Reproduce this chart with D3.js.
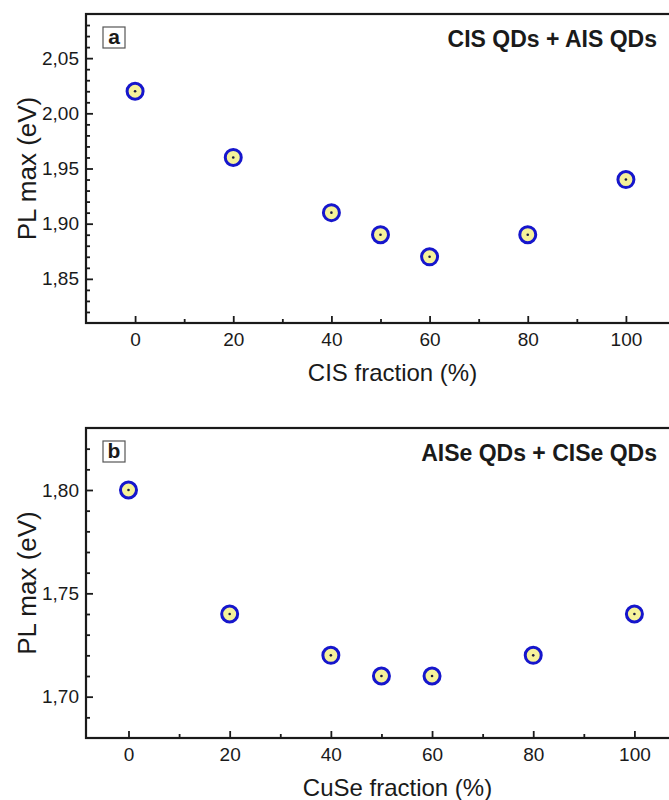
<!DOCTYPE html>
<html>
<head>
<meta charset="utf-8">
<script src="https://cdn.jsdelivr.net/npm/d3@7"></script>
<style>
  html, body { margin: 0; padding: 0; background: #fff; }
  svg { display: block; }
  text { font-family: "Liberation Sans", Arial, sans-serif; fill: #1a1a1a; }
</style>
</head>
<body>
<svg id="chart" width="669" height="800"></svg>
<script>
// Composition (%) of the QD mixtures
const fractions = [0, 20, 40, 50, 60, 80, 100];
// PL maximum (eV), CIS + AIS mixtures
const plMaxA = [2.02, 1.96, 1.91, 1.89, 1.87, 1.89, 1.94];
// PL maximum (eV), AISe + CISe mixtures
const plMaxB = [1.80, 1.74, 1.72, 1.71, 1.71, 1.72, 1.74];

const xTicks = [0, 20, 40, 60, 80, 100];
const xMinorTicks = [10, 30, 50, 70, 90];
const yTicksA = [1.85, 1.90, 1.95, 2.00, 2.05];
const yTicksB = [1.70, 1.75, 1.80];

const panelLetters = ["a", "b"];
const panelTitles = ["CIS QDs + AIS QDs", "AISe QDs + CISe QDs"];
const xTitles = ["CIS fraction (%)", "CuSe fraction (%)"];
const yTitle = "PL max (eV)";

const panels = [
  {
    letter: panelLetters[0], title: panelTitles[0], xTitle: xTitles[0],
    values: plMaxA, yTicks: yTicksA,
    xDomain: [-10, 110], xRange: [86, 675],
    yDomain: [1.81, 2.09], yRange: [323, 14]
  },
  {
    letter: panelLetters[1], title: panelTitles[1], xTitle: xTitles[1],
    values: plMaxB, yTicks: yTicksB,
    xDomain: [-8.4, 110], xRange: [86, 685],
    yDomain: [1.68, 1.83], yRange: [738, 428]
  }
];

const svg = d3.select("#chart");
const ink = "#1a1a1a";
const comma = v => d3.format(".2f")(v).replace(".", ",");

panels.forEach(p => {
  const x = d3.scaleLinear().domain(p.xDomain).range(p.xRange);
  const y = d3.scaleLinear().domain(p.yDomain).range(p.yRange);
  const [x0, x1] = p.xRange;
  const [yb, yt] = p.yRange;
  const g = svg.append("g");

  // minor y ticks every 0.01
  const yMinor = d3.range(Math.round(p.yDomain[0] * 100), Math.round(p.yDomain[1] * 100) + 1)
    .map(v => v / 100)
    .filter(v => !p.yTicks.some(t => Math.abs(t - v) < 1e-6) && v > p.yDomain[0] + 1e-6 && v < p.yDomain[1] - 1e-6);

  const yMinorAxis = g.append("g").attr("transform", `translate(${x0},0)`)
    .call(d3.axisLeft(y).tickValues(yMinor).tickSize(-4).tickFormat(""));
  const yAxis = g.append("g").attr("transform", `translate(${x0},0)`)
    .call(d3.axisLeft(y).tickValues(p.yTicks).tickSize(-7).tickPadding(7).tickFormat(comma));

  const xMinorAxis = g.append("g").attr("transform", `translate(0,${yb})`)
    .call(d3.axisBottom(x).tickValues(xMinorTicks).tickSize(-4).tickFormat(""));
  const xAxis = g.append("g").attr("transform", `translate(0,${yb})`)
    .call(d3.axisBottom(x).tickValues(xTicks).tickSize(-7).tickPadding(10).tickFormat(d3.format("d")));

  [yMinorAxis, yAxis, xMinorAxis, xAxis].forEach(a => {
    a.select(".domain").remove();
    a.attr("font-size", null).attr("font-family", null);
    a.selectAll(".tick line").attr("stroke", ink).attr("stroke-width", 1.8);
    a.selectAll(".tick text").attr("font-size", 19).attr("fill", ink);
  });
  xAxis.selectAll(".tick text").attr("dy", "0.71em");

  // frame
  g.append("rect")
    .attr("x", x0).attr("y", yt)
    .attr("width", x1 - x0).attr("height", yb - yt)
    .attr("fill", "none").attr("stroke", ink).attr("stroke-width", 2.2);

  // panel letter in a small box
  g.append("rect")
    .attr("x", x0 + 17).attr("y", yt + 13)
    .attr("width", 22).attr("height", 21)
    .attr("fill", "#fff").attr("stroke", "#555").attr("stroke-width", 1.2);
  g.append("text")
    .attr("x", x0 + 28).attr("y", yt + 30)
    .attr("text-anchor", "middle")
    .attr("font-size", 21).attr("font-weight", "bold")
    .text(p.letter);

  // panel title
  g.append("text")
    .attr("x", 657).attr("y", yt + 33)
    .attr("text-anchor", "end")
    .attr("font-size", 23).attr("font-weight", "bold")
    .text(p.title);

  // axis titles
  g.append("text")
    .attr("x", (x0 + x1) / 2 + 12).attr("y", yb + 58)
    .attr("text-anchor", "middle")
    .attr("font-size", 24)
    .text(p.xTitle);
  g.append("text")
    .attr("transform", `translate(36,${(yb + yt) / 2}) rotate(-90)`)
    .attr("text-anchor", "middle")
    .attr("font-size", 26)
    .text(yTitle);

  // markers
  const pts = g.append("g").selectAll("g")
    .data(fractions.map((f, i) => ({ f, v: p.values[i] })))
    .join("g")
    .attr("transform", d => `translate(${x(d.f)},${y(d.v)})`);
  pts.append("circle").attr("r", 8)
    .attr("fill", "#f6f29a").attr("stroke", "#1616cc").attr("stroke-width", 3);
  pts.append("circle").attr("r", 1.3).attr("fill", "#1a1a40");
});
</script>
</body>
</html>
